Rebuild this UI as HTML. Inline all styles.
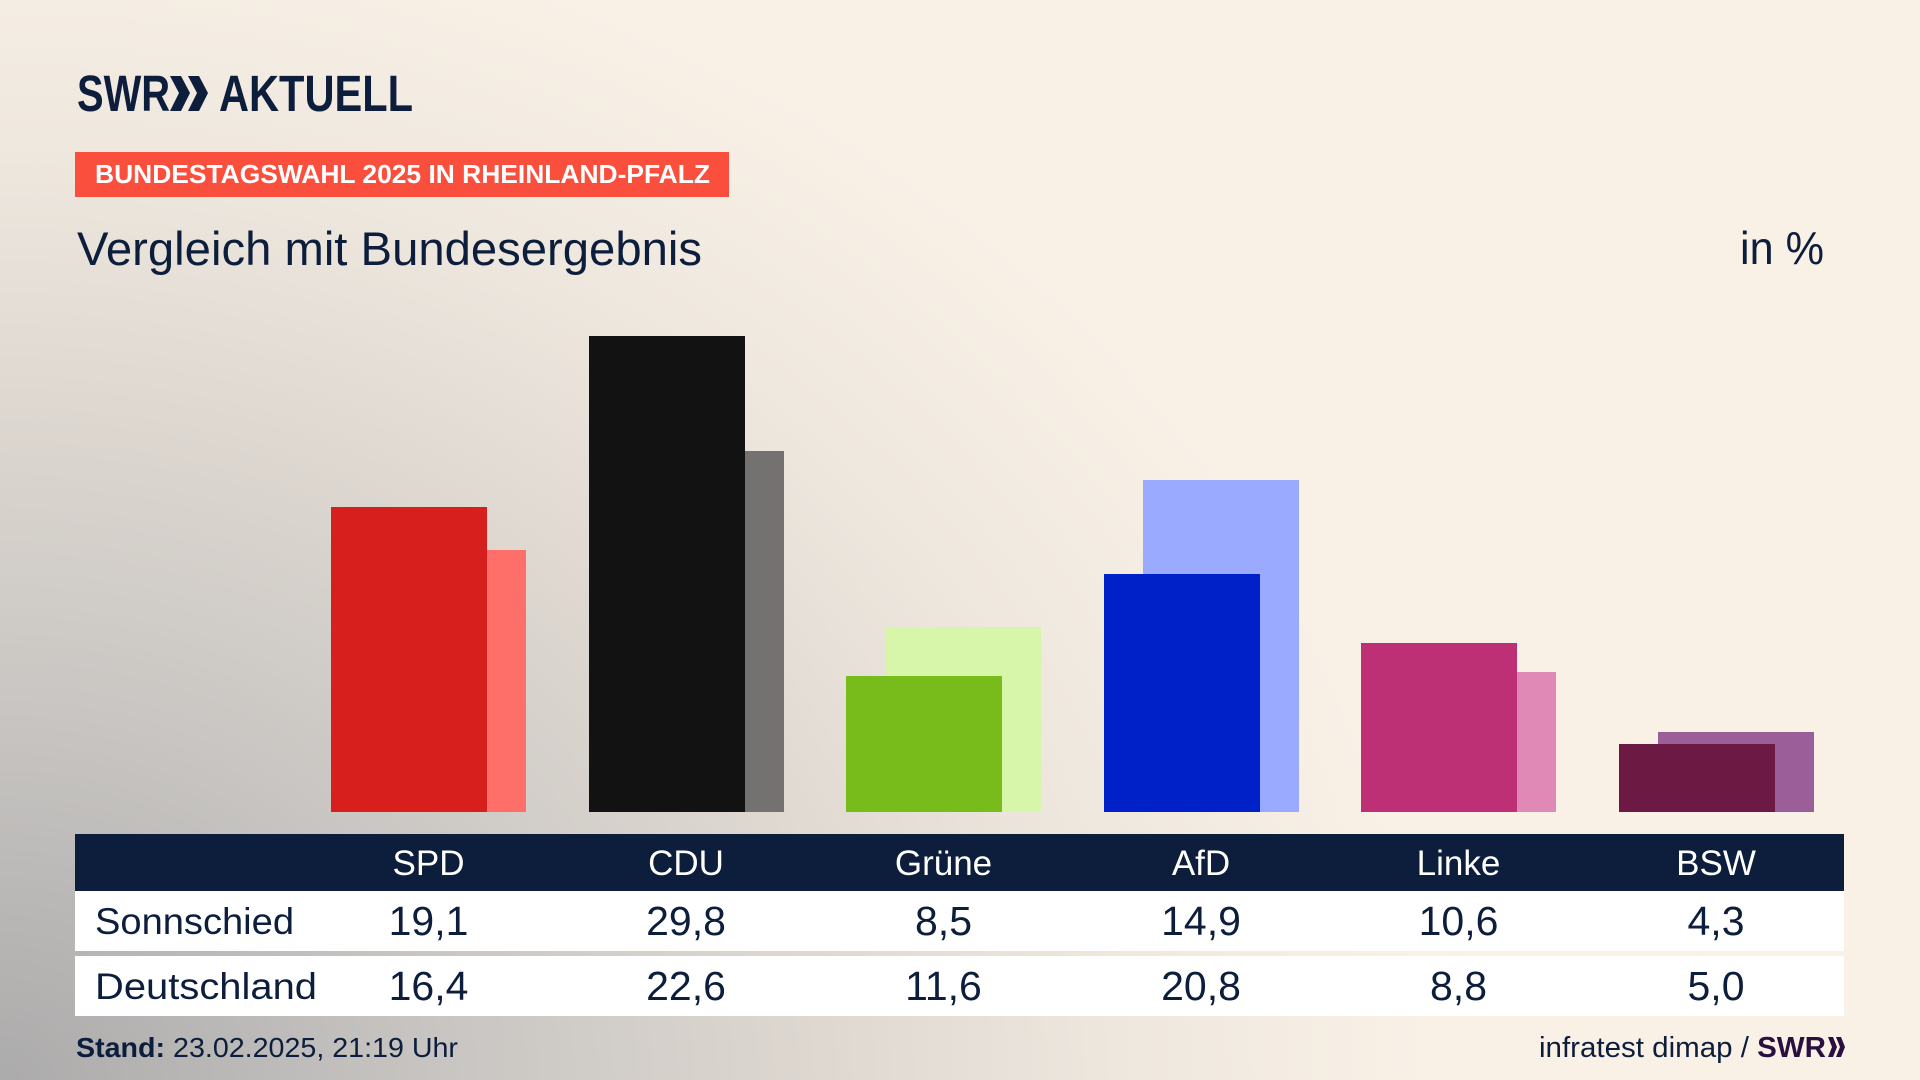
<!DOCTYPE html>
<html lang="de">
<head>
<meta charset="utf-8">
<title>Vergleich mit Bundesergebnis</title>
<style>
  html, body { margin: 0; padding: 0; }
  body {
    width: 1920px; height: 1080px; overflow: hidden;
    background: #f9f1e6;
    background-image: radial-gradient(ellipse 1550px 1280px at 0% 100%, #acabab 0%, #c9c6c3 30%, #ddd7d0 52%, #eee7de 72%, #f9f1e6 92%);
    font-family: "Liberation Sans", sans-serif;
  }
  svg { position: absolute; left: 0; top: 0; }
  text { font-family: "Liberation Sans", sans-serif; }
</style>
</head>
<body>
<svg width="1920" height="1080" viewBox="0 0 1920 1080" xmlns="http://www.w3.org/2000/svg">
  <!-- Logo -->
  <text x="77" y="111" font-size="51" font-weight="bold" fill="#0c1e3c" textLength="93" lengthAdjust="spacingAndGlyphs">SWR</text>
  <polygon points="170,76 181,76 190,93 181,111 170,111 179,93" fill="#0c1e3c"/>
  <polygon points="188,76 199,76 208,93 199,111 188,111 197,93" fill="#0c1e3c"/>
  <text x="219" y="111" font-size="51" font-weight="bold" fill="#0c1e3c" textLength="194" lengthAdjust="spacingAndGlyphs">AKTUELL</text>

  <!-- Tag -->
  <rect x="75" y="152" width="654" height="45" fill="#fa4f3d"/>
  <text x="95" y="183" font-size="26" font-weight="bold" fill="#ffffff" textLength="615" lengthAdjust="spacingAndGlyphs">BUNDESTAGSWAHL 2025 IN RHEINLAND-PFALZ</text>

  <!-- Title -->
  <text x="77" y="265" font-size="47" fill="#0c1e3c" textLength="625" lengthAdjust="spacingAndGlyphs">Vergleich mit Bundesergebnis</text>
  <text x="1740" y="264" font-size="46" fill="#0c1e3c" textLength="84" lengthAdjust="spacingAndGlyphs">in %</text>

  <!-- Bars: baseline 812, 15.97 px per point -->
  <rect x="370" y="550" width="156" height="262" fill="#ff6f6a"/>
  <rect x="331" y="507" width="156" height="305" fill="#d71f1d"/>
  <rect x="628" y="451" width="156" height="361" fill="#737271"/>
  <rect x="589" y="336" width="156" height="476" fill="#121212"/>
  <rect x="885" y="627" width="156" height="185" fill="#d7f6a9"/>
  <rect x="846" y="676" width="156" height="136" fill="#78bc1b"/>
  <rect x="1143" y="480" width="156" height="332" fill="#9aabff"/>
  <rect x="1104" y="574" width="156" height="238" fill="#0020c8"/>
  <rect x="1400" y="672" width="156" height="140" fill="#e088b6"/>
  <rect x="1361" y="643" width="156" height="169" fill="#bd3075"/>
  <rect x="1658" y="732" width="156" height="80" fill="#9a5f98"/>
  <rect x="1619" y="744" width="156" height="68" fill="#6c1943"/>

  <!-- Table -->
  <rect x="75" y="834" width="1769" height="57" fill="#0c1e3c"/>
  <rect x="75" y="891" width="1769" height="60" fill="#ffffff"/>
  <rect x="75" y="956" width="1769" height="60" fill="#ffffff"/>

  <g font-size="35" fill="#ffffff" text-anchor="middle">
    <text x="428.5" y="875">SPD</text>
    <text x="686" y="875">CDU</text>
    <text x="943.5" y="875">Grüne</text>
    <text x="1201" y="875">AfD</text>
    <text x="1458.5" y="875">Linke</text>
    <text x="1716" y="875">BSW</text>
  </g>

  <text x="95" y="934" font-size="37" fill="#0c1e3c" textLength="199" lengthAdjust="spacingAndGlyphs">Sonnschied</text>
  <text x="95" y="999" font-size="37" fill="#0c1e3c" textLength="222" lengthAdjust="spacingAndGlyphs">Deutschland</text>

  <g font-size="41" fill="#0c1e3c" text-anchor="middle">
    <text x="428.5" y="935">19,1</text>
    <text x="686" y="935">29,8</text>
    <text x="943.5" y="935">8,5</text>
    <text x="1201" y="935">14,9</text>
    <text x="1458.5" y="935">10,6</text>
    <text x="1716" y="935">4,3</text>
    <text x="428.5" y="1000">16,4</text>
    <text x="686" y="1000">22,6</text>
    <text x="943.5" y="1000">11,6</text>
    <text x="1201" y="1000">20,8</text>
    <text x="1458.5" y="1000">8,8</text>
    <text x="1716" y="1000">5,0</text>
  </g>

  <!-- Footer -->
  <text x="76" y="1057" font-size="28" fill="#0c1e3c" textLength="382" lengthAdjust="spacingAndGlyphs"><tspan font-weight="bold">Stand:</tspan> 23.02.2025, 21:19 Uhr</text>

  <text x="1539" y="1057" font-size="29" fill="#0c1e3c" textLength="287" lengthAdjust="spacingAndGlyphs">infratest dimap / <tspan font-weight="bold" fill="#2a1040">SWR</tspan></text>
  <polygon points="1828,1037 1833,1037 1837,1047 1833,1057 1828,1057 1832,1047" fill="#2a1040"/>
  <polygon points="1836,1037 1841,1037 1845,1047 1841,1057 1836,1057 1840,1047" fill="#2a1040"/>
</svg>
</body>
</html>
